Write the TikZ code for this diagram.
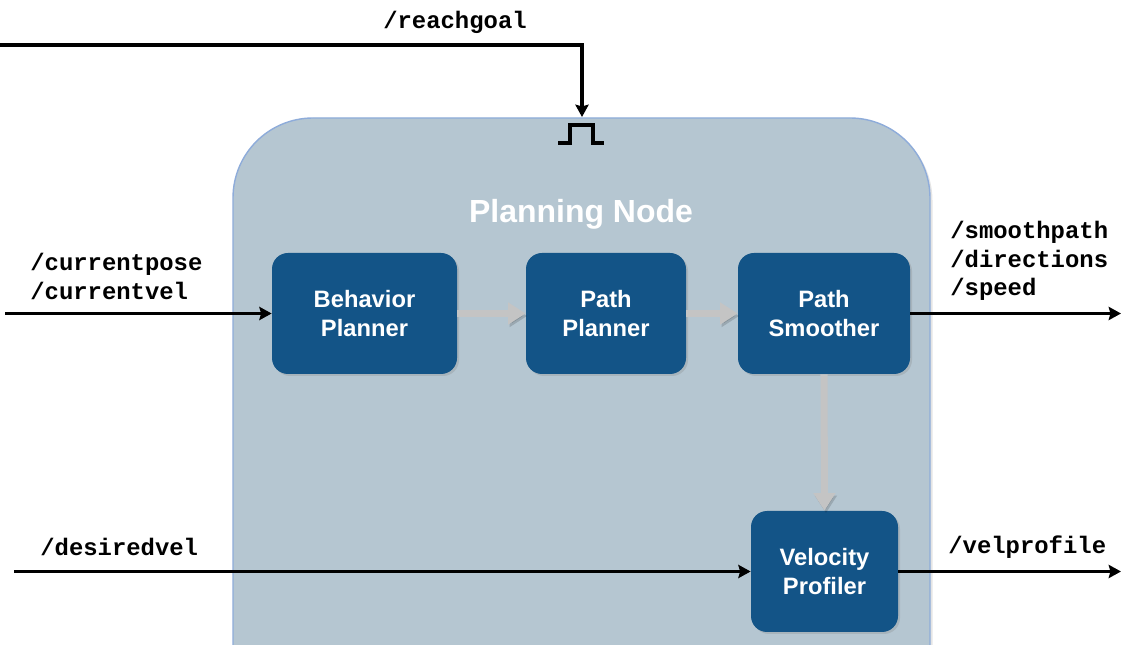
\documentclass[tikz,border=0pt]{standalone}
\usepackage{fontspec}
\setmainfont{Liberation Sans}
\setmonofont{Liberation Mono}
\usetikzlibrary{arrows.meta, positioning, shadows, calc}
\definecolor{nodeblue}{RGB}{19, 84, 135}
\definecolor{panelfill}{RGB}{181, 198, 209}
\definecolor{paneledge}{RGB}{142, 172, 218}
\definecolor{flowgray}{RGB}{196, 196, 196}

\begin{document}
\begin{tikzpicture}[
    blockbox/.style={rectangle, rounded corners=0.32cm, fill=nodeblue, text=white, minimum height=2.42cm, align=center, font=\fontsize{13.5}{16.4}\selectfont\bfseries, drop shadow={opacity=0.25, shadow xshift=0.04cm, shadow yshift=-0.04cm}},
    topic/.style={anchor=west, align=left, inner sep=0pt, font=\ttfamily\bfseries\fontsize{13.6}{16.4}\selectfont},
    signal/.style={-{Stealth[length=7pt, width=7.5pt, inset=1pt]}, line width=2.2pt, black},
    flow/.style={-{Triangle[length=10pt, width=12pt]}, line width=4pt, color=flowgray,
        preaction={draw=black, opacity=0.15, transform canvas={shift={(0.03,-0.05)}}}}
]
\clip (0,0) rectangle (22.42,12.9);
\fill[white] (0,0) rectangle (22.42,12.9);

% planning node panel
\draw[fill=panelfill, draw=paneledge, line width=0.8pt, rounded corners=1.6cm,
      drop shadow={opacity=0.2, shadow xshift=0.05cm, shadow yshift=-0.05cm}]
    (4.66,-2) rectangle (18.6,10.54);
\node[text=white, font=\fontsize{18.2}{22}\selectfont\bfseries] (title) at (11.62,8.62) {Planning Node};

% blocks
\node[blockbox, minimum width=3.7cm] (behavior) at (7.29,6.63) {Behavior\\Planner};
\node[blockbox, minimum width=3.2cm] (planner) at (12.12,6.63) {Path\\Planner};
\node[blockbox, minimum width=3.44cm] (smoother) at (16.48,6.63) {Path\\Smoother};
\node[blockbox, minimum width=2.94cm] (profiler) at (16.49,1.47) {Velocity\\Profiler};

% internal flow
\draw[flow] (behavior) -- (planner);
\draw[flow] (planner) -- (smoother);
\draw[flow] (smoother.south) -- (profiler.north);

% trigger input
\coordinate (goalin) at (0,12.0);
\coordinate (goalbend) at (11.64,12.0);
\coordinate (goalend) at (11.64,10.56);
\draw[signal] (goalin) -- (goalbend) -- (goalend);
\node[topic, anchor=center] (goallabel) at (9.1,12.46) {/reachgoal};
\draw[line width=2.2pt] (11.16,10.04) -- (11.4,10.04) -- (11.4,10.4) -- (11.86,10.4) -- (11.86,10.04) -- (12.08,10.04);

% inputs
\coordinate (posein) at (0.1,6.63);
\draw[signal] (posein) -- (behavior);
\node[topic] (poselabel) at (0.6,7.37) {/currentpose\\/currentvel};

\coordinate (velin) at (0.28,1.47);
\draw[signal] (velin) -- (profiler);
\node[topic] (vellabel) at (0.8,1.96) {/desiredvel};

% outputs
\coordinate (pathout) at (22.42,6.63);
\draw[signal] (smoother) -- (pathout);
\node[topic] (pathlabel) at (19.0,7.68) {/smoothpath\\/directions\\/speed};

\coordinate (profout) at (22.42,1.47);
\draw[signal] (profiler) -- (profout);
\node[topic] (proflabel) at (18.96,1.96) {/velprofile};

\end{tikzpicture}
\end{document}
